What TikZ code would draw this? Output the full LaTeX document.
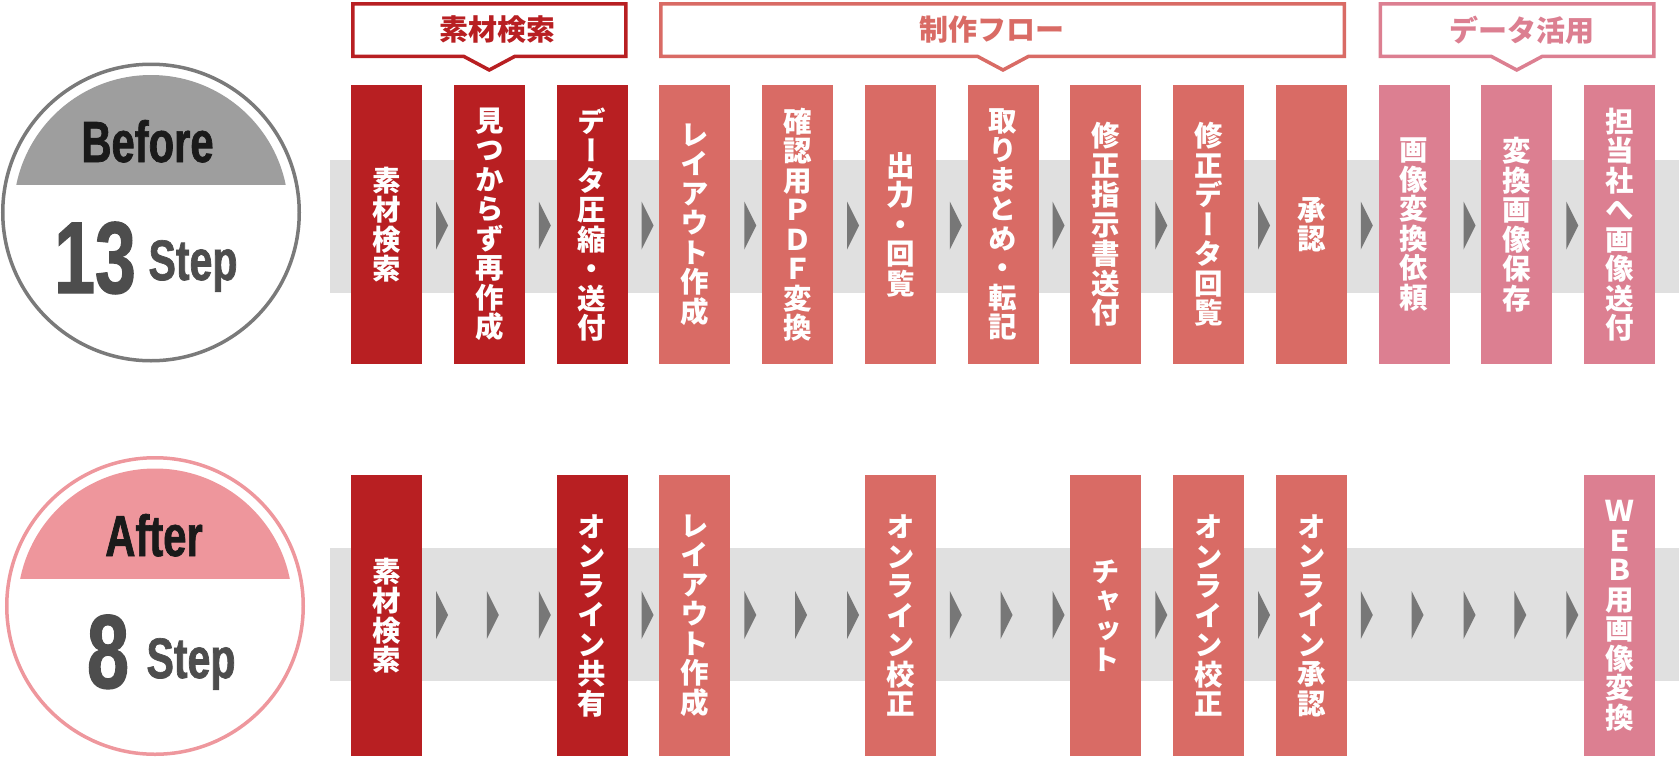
\documentclass[tikz,border=0pt]{standalone}
\usepackage{fontspec}
\newfontfamily\jp{Noto Sans CJK JP}
\newfontfamily\jpv{Noto Sans CJK JP}[RawFeature=+vert]
\newfontfamily\condf{Liberation Sans Bold}[FakeStretch=0.72, FakeBold=1.2]
\definecolor{dred}{HTML}{B81F22}
\definecolor{mred}{HTML}{D96B65}
\definecolor{pinkc}{HTML}{DC7F91}
\definecolor{bandc}{HTML}{E0E0E0}
\definecolor{arrc}{HTML}{777777}
\definecolor{bcap}{HTML}{9E9E9E}
\definecolor{bring}{HTML}{7A7A7A}
\definecolor{acap}{HTML}{EE969C}
\definecolor{aring}{HTML}{EE979D}
\definecolor{txtblack}{HTML}{1A1A1A}
\definecolor{txtgray}{HTML}{4D4D4D}
\begin{document}
\begin{tikzpicture}[x=1pt,y=-1pt,
  stepbox/.style={rectangle, inner sep=0pt, minimum width=71pt, align=center, text=white,
    font=\jpv\bfseries\fontsize{28.5}{29.5}\selectfont},
  toprow/.style={stepbox, minimum height=279pt},
  botrow/.style={stepbox, minimum height=281pt},
  hdrbox/.style={line width=3.5pt, fill=white, line join=miter},
  hdrtext/.style={inner sep=0pt, font=\jp\bfseries\fontsize{29}{29}\selectfont},
  band/.style={fill=bandc},
  arr/.style={fill=arrc},
  bigtxt/.style={inner sep=0pt, anchor=base},
]
\useasboundingbox (0,0) rectangle (1679,758);

% gray bands
\fill[band] (330,160) rectangle (1679,293);
\fill[band] (330,548) rectangle (1679,681);

% arrows top row (in gaps)
\foreach \i in {0,...,11} {
  \fill[arr] ({436+102.75*\i},201.5) -- ++(12,24) -- ++(-12,24) -- cycle;
}
% arrows bottom row (in gaps)
\foreach \i in {0,...,11} {
  \fill[arr] ({436+102.75*\i},591) -- ++(12,24) -- ++(-12,24) -- cycle;
}
% arrows bottom row (in empty columns)
\foreach \i in {1,4,6,10,11} {
  \fill[arr] ({384+102.75*\i},591) -- ++(12,24) -- ++(-12,24) -- cycle;
}

% top row boxes
\node[toprow, fill=dred] (t0) at (386.5,224.5) {素\\材\\検\\索};
\node[toprow, fill=dred] (t1) at (489.25,224.5) {見\\つ\\か\\ら\\ず\\再\\作\\成};
\node[toprow, fill=dred] (t2) at (592,224.5) {デ\\ー\\タ\\圧\\縮\\・\\送\\付};
\node[toprow, fill=mred] (t3) at (694.75,224.5) {レ\\イ\\ア\\ウ\\ト\\作\\成};
\node[toprow, fill=mred] (t4) at (797.5,224.5) {確\\認\\用\\Ｐ\\Ｄ\\Ｆ\\変\\換};
\node[toprow, fill=mred] (t5) at (900.25,224.5) {出\\力\\・\\回\\覧};
\node[toprow, fill=mred] (t6) at (1003,224.5) {取\\り\\ま\\と\\め\\・\\転\\記};
\node[toprow, fill=mred] (t7) at (1105.75,224.5) {修\\正\\指\\示\\書\\送\\付};
\node[toprow, fill=mred] (t8) at (1208.5,224.5) {修\\正\\デ\\ー\\タ\\回\\覧};
\node[toprow, fill=mred] (t9) at (1311.25,224.5) {承\\認};
\node[toprow, fill=pinkc] (t10) at (1414,224.5) {画\\像\\変\\換\\依\\頼};
\node[toprow, fill=pinkc] (t11) at (1516.75,224.5) {変\\換\\画\\像\\保\\存};
\node[toprow, fill=pinkc] (t12) at (1619.5,224.5) {担\\当\\社\\へ\\画\\像\\送\\付};

% bottom row boxes
\node[botrow, fill=dred] (u0) at (386.5,615.5) {素\\材\\検\\索};
\node[botrow, fill=dred] (u2) at (592,615.5) {オ\\ン\\ラ\\イ\\ン\\共\\有};
\node[botrow, fill=mred] (u3) at (694.75,615.5) {レ\\イ\\ア\\ウ\\ト\\作\\成};
\node[botrow, fill=mred] (u5) at (900.25,615.5) {オ\\ン\\ラ\\イ\\ン\\校\\正};
\node[botrow, fill=mred] (u7) at (1105.75,615.5) {チ\\ャ\\ッ\\ト};
\node[botrow, fill=mred] (u8) at (1208.5,615.5) {オ\\ン\\ラ\\イ\\ン\\校\\正};
\node[botrow, fill=mred] (u9) at (1311.25,615.5) {オ\\ン\\ラ\\イ\\ン\\承\\認};
\node[botrow, fill=pinkc] (u12) at (1619.5,615.5) {Ｗ\\Ｅ\\Ｂ\\用\\画\\像\\変\\換};

% header boxes
\draw[hdrbox, draw=dred] (352.75,3.75) -- (625.75,3.75) -- (625.75,56.25) -- (515,56.25)
  -- (489.25,70) -- (463.5,56.25) -- (352.75,56.25) -- cycle;
\node[hdrtext, text=dred] (h1) at (497,30) {素材検索};
\draw[hdrbox, draw=mred] (660.75,3.75) -- (1344.25,3.75) -- (1344.25,56.25) -- (1028.75,56.25)
  -- (1003,70) -- (977.25,56.25) -- (660.75,56.25) -- cycle;
\node[hdrtext, text=mred] (h2) at (992,30) {制作フロー};
\draw[hdrbox, draw=pinkc] (1380.25,3.75) -- (1653.75,3.75) -- (1653.75,56.25) -- (1542.5,56.25)
  -- (1516.75,70) -- (1491,56.25) -- (1380.25,56.25) -- cycle;
\node[hdrtext, text=pinkc] (h3) at (1522,30) {データ活用};

% Before circle
\coordinate (cb) at (151,212.5);
\begin{scope}
  \clip (cb) circle[radius=137.5pt];
  \fill[bcap] (0,0) rectangle (320,185);
\end{scope}
\draw[line width=3.5pt, draw=bring] (cb) circle[radius=148.25pt];
\node[bigtxt, text=txtblack, font=\condf\fontsize{58}{58}\selectfont] (bf) at (147.5,162) {Before};
\node[bigtxt, text=txtgray, font=\condf\fontsize{102}{102}\selectfont] (n13) at (95,293) {13};
\node[bigtxt, text=txtgray, font=\condf\fontsize{57}{57}\selectfont] (st1) at (193,280) {Step};

% After circle
\coordinate (ca) at (155,606);
\begin{scope}
  \clip (ca) circle[radius=137.5pt];
  \fill[acap] (0,440) rectangle (320,579);
\end{scope}
\draw[line width=3.5pt, draw=aring] (ca) circle[radius=148.25pt];
\node[bigtxt, text=txtblack, font=\condf\fontsize{58}{58}\selectfont] (af) at (154,556) {After};
\node[bigtxt, text=txtgray, font=\condf\fontsize{105}{105}\selectfont] (n8) at (108,688) {8};
\node[bigtxt, text=txtgray, font=\condf\fontsize{57}{57}\selectfont] (st2) at (191,678) {Step};
\end{tikzpicture}
\end{document}
